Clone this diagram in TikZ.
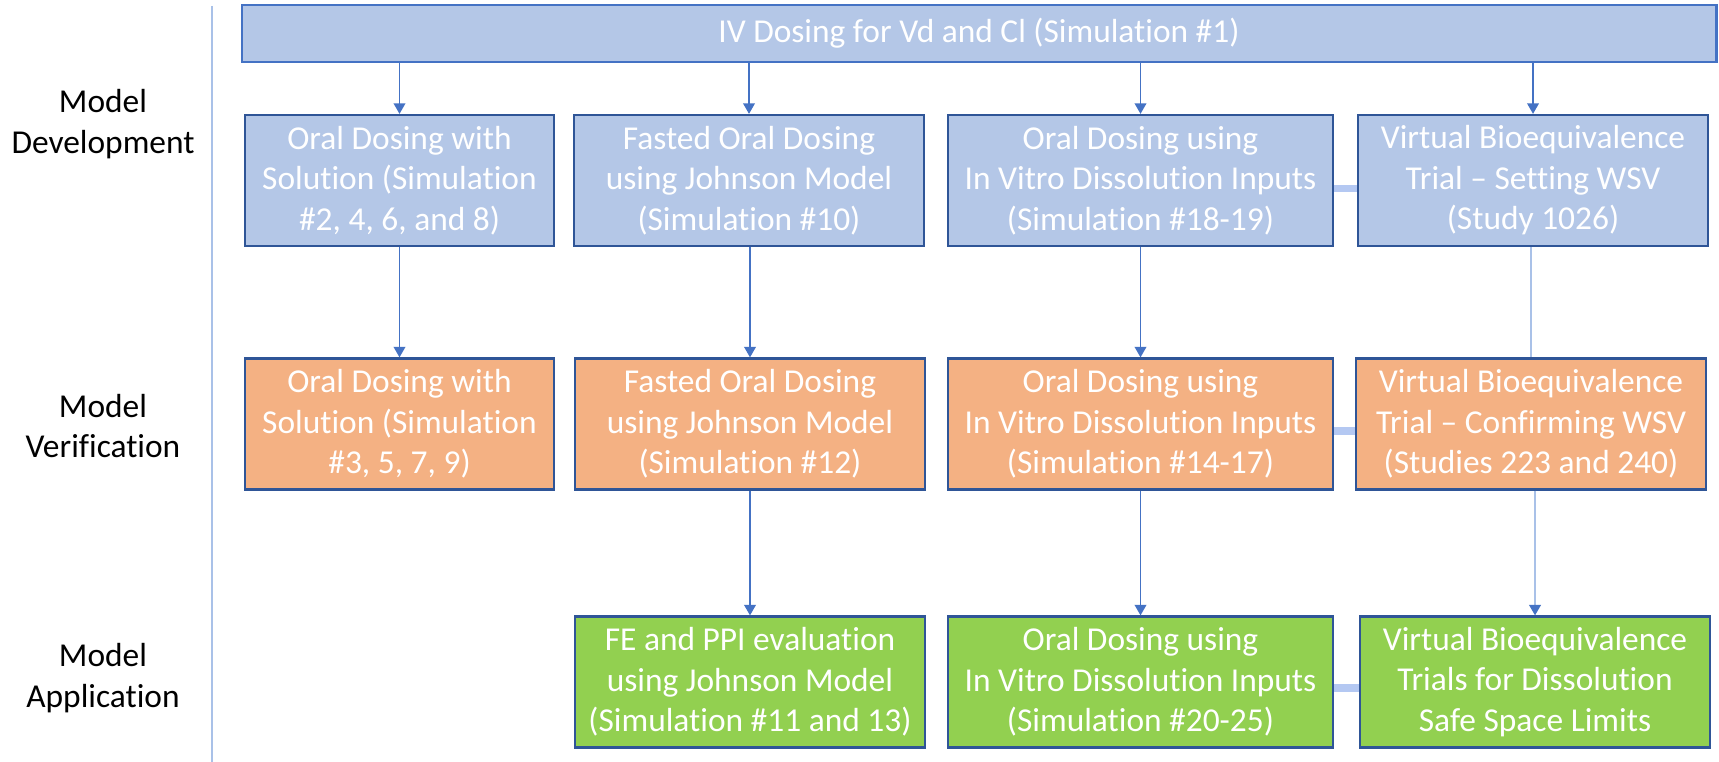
\documentclass[tikz,border=0pt]{standalone}
\usepackage{fontspec}
\setmainfont{Carlito}[Ligatures=NoCommon]
\usetikzlibrary{arrows.meta,calc}

\definecolor{devblue}{HTML}{B4C7E7}
\definecolor{verorange}{HTML}{F4B183}
\definecolor{appgreen}{HTML}{92D050}
\definecolor{edgeblue}{HTML}{2F5597}
\definecolor{arrowblue}{HTML}{4472C4}
\definecolor{paleblue}{HTML}{A9C1E8}
\definecolor{linkblue}{HTML}{B4C8F2}

\begin{document}
\begin{tikzpicture}[x=0.01cm,y=-0.01cm,>={Triangle[length=3pt,width=3.3pt]},
    font=\fontsize{9.5}{11.5}\selectfont,
    box/.style={draw=edgeblue, line width=0.6pt, text=white, align=center,
        minimum height=1.31cm, inner sep=1pt},
    devbox/.style={box, fill=devblue},
    verbox/.style={box, fill=verorange},
    appbox/.style={box, fill=appgreen},
    flow/.style={->, arrowblue, line width=0.5pt},
    paleflow/.style={paleblue, line width=0.6pt},
    link/.style={linkblue, line width=2pt},
    phase/.style={black, align=center}]

    % --- Canvas ---
    \fill[white] (0,0) rectangle (1719,762);
    \useasboundingbox (0,0) rectangle (1719,762);

    % --- Phase labels and separator ---
    \node[phase] (labdev) at (103,124) {Model\\Development};
    \node[phase] (labver) at (103,426) {Model\\Verification};
    \node[phase] (labapp) at (103,678) {Model\\Application};
    \draw[paleblue, line width=0.6pt] (212,6) -- (212,762);

    % --- Top box ---
    \node[devbox, draw=arrowblue, minimum width=14.74cm, minimum height=0.57cm]
        (iv) at (979,33.5) {IV Dosing for Vd and Cl (Simulation \#1)};

    % --- Model development ---
    \node[devbox, minimum width=3.09cm] (d1) at (399.5,180.5)
        {Oral Dosing with\\Solution (Simulation\\\#2, 4, 6, and 8)};
    \node[devbox, minimum width=3.50cm] (d2) at (749,180.5)
        {Fasted Oral Dosing\\using Johnson Model\\(Simulation \#10)};
    \node[devbox, minimum width=3.85cm] (d3) at (1140.5,180.5)
        {Oral Dosing using\\In Vitro Dissolution Inputs\\(Simulation \#18-19)};
    \node[devbox, minimum width=3.50cm] (d4) at (1533,180.5)
        {Virtual Bioequivalence\\Trial -- Setting WSV\\(Study 1026)};

    % --- Model verification ---
    \node[verbox, minimum width=3.09cm] (v1) at (399.5,424)
        {Oral Dosing with\\Solution (Simulation\\\#3, 5, 7, 9)};
    \node[verbox, minimum width=3.50cm] (v2) at (750,424)
        {Fasted Oral Dosing\\using Johnson Model\\(Simulation \#12)};
    \node[verbox, minimum width=3.85cm] (v3) at (1140.5,424)
        {Oral Dosing using\\In Vitro Dissolution Inputs\\(Simulation \#14-17)};
    \node[verbox, minimum width=3.50cm] (v4) at (1531,424)
        {Virtual Bioequivalence\\Trial -- Confirming WSV\\(Studies 223 and 240)};

    % --- Model application ---
    \node[appbox, minimum width=3.50cm] (a2) at (750,682)
        {FE and PPI evaluation\\using Johnson Model\\(Simulation \#11 and 13)};
    \node[appbox, minimum width=3.85cm] (a3) at (1140.5,682)
        {Oral Dosing using\\In Vitro Dissolution Inputs\\(Simulation \#20-25)};
    \node[appbox, minimum width=3.50cm] (a4) at (1535,682)
        {Virtual Bioequivalence\\Trials for Dissolution\\Safe Space Limits};

    % --- Arrows ---
    \foreach \b in {d1,d2,d3,d4}
        \draw[flow] (iv.south -| \b.north) -- (\b.north);
    \foreach \a/\b in {d1/v1,d2/v2,d3/v3,v2/a2,v3/a3}
        \draw[flow] (\a.south -| \b.north) -- (\b.north);
    \draw[paleflow] (d4.south -| v4.north) -- (v4.north);
    \draw[paleflow, -{Triangle[length=3pt,width=3.3pt,color=arrowblue]}]
        (v4.south -| a4.north) -- (a4.north);

    % --- Side links ---
    \draw[link] ([yshift=-0.08cm]d3.east) -- ([yshift=-0.08cm]d4.west);
    \draw[link] ([yshift=-0.07cm]v3.east) -- ([yshift=-0.07cm]v4.west);
    \draw[link] ([yshift=-0.06cm]a3.east) -- ([yshift=-0.06cm]a4.west);

\end{tikzpicture}
\end{document}
